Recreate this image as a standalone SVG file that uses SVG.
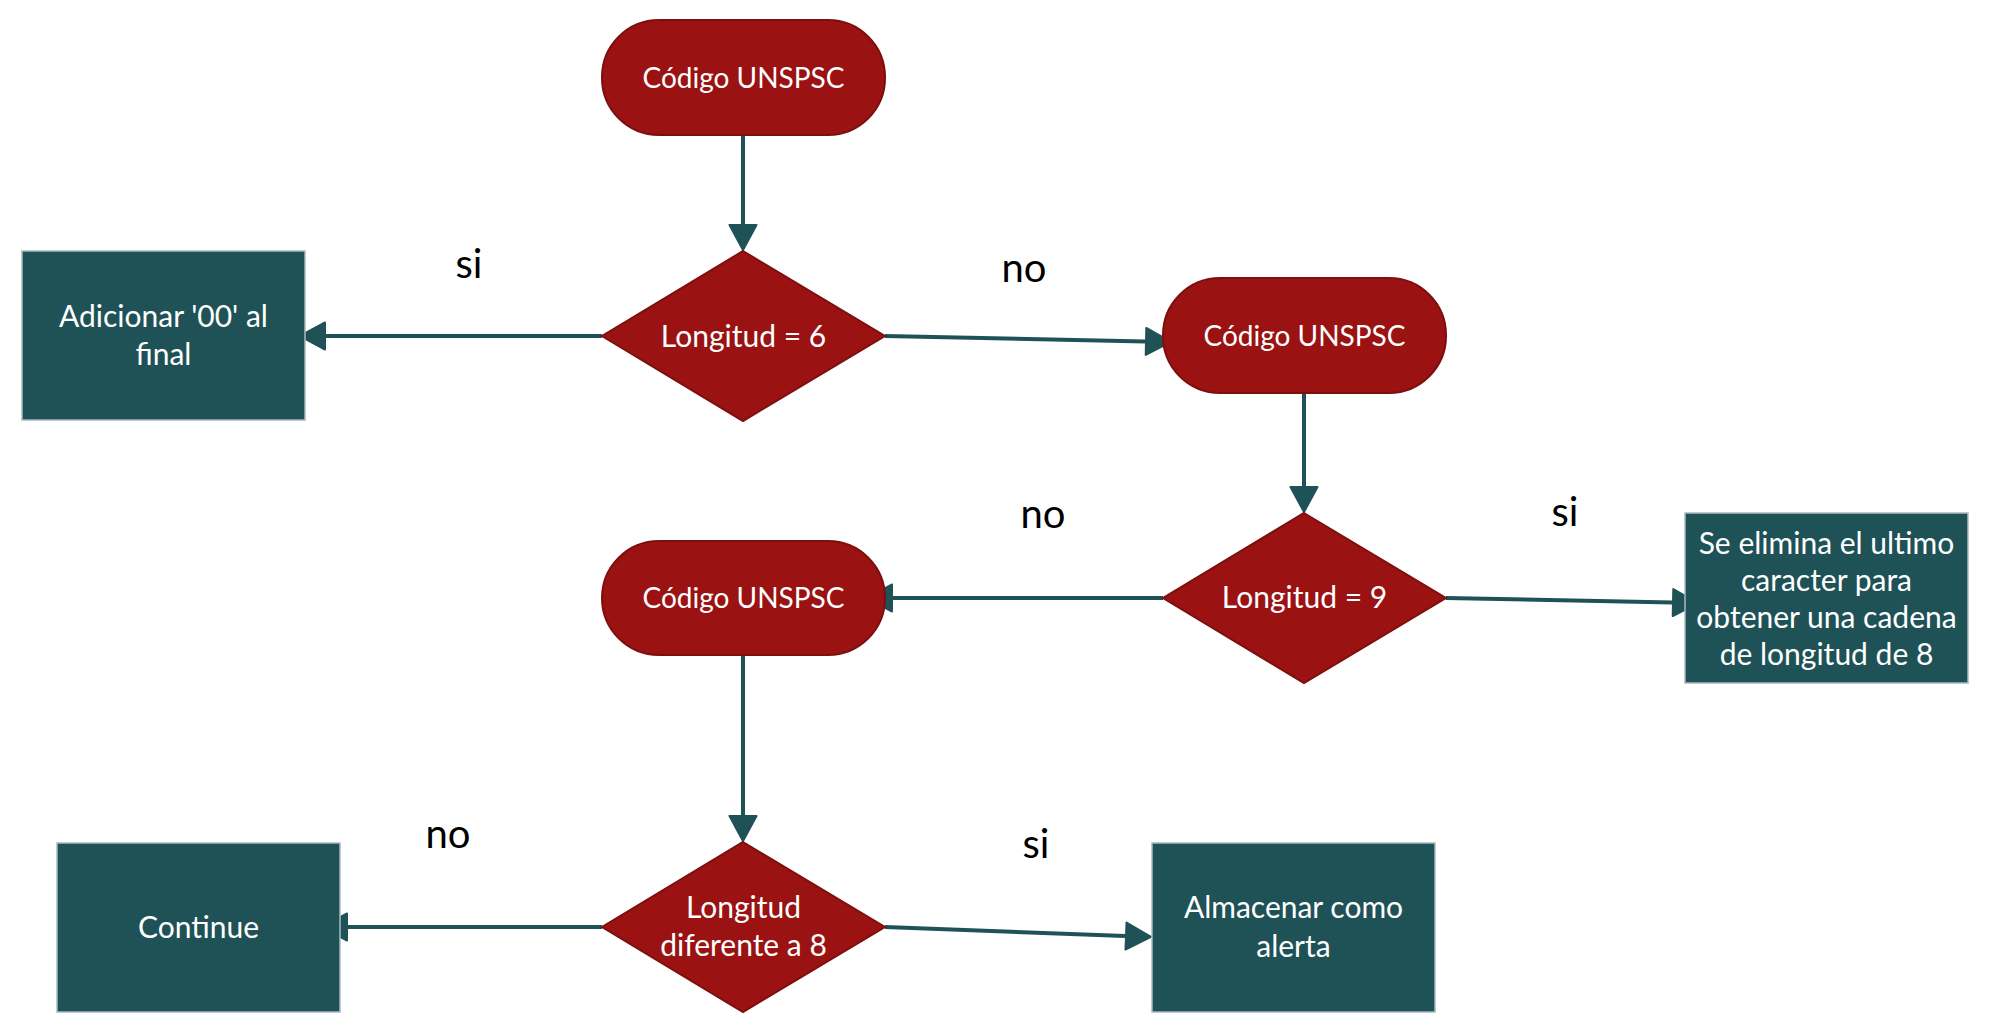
<svg xmlns="http://www.w3.org/2000/svg" width="2000" height="1035" viewBox="0 0 2000 1035">
<defs>
<marker id="arr" markerUnits="userSpaceOnUse" markerWidth="28" markerHeight="30" refX="0" refY="14.5" orient="auto" overflow="visible">
<path d="M1,1 L26,14.5 L1,28 z" fill="#1F5257" stroke="#1F5257" stroke-width="2" stroke-linejoin="round"/>
</marker>
<style>
.term{fill:#9B1212;stroke:#7E0F0F;stroke-width:2}
.dec{fill:#9B1212;stroke:#7E0F0F;stroke-width:2}
.box{fill:#1F5257;stroke:#A9BBBE;stroke-width:1.5}
.nt{font-family:Lato,"Open Sans",sans-serif;font-size:30px;fill:#FFFFFF;text-anchor:middle}
.tt{font-size:28px}
.lbl{font-family:Lato,"Open Sans",sans-serif;font-size:40px;fill:#000000;text-anchor:middle}
.con{fill:none;stroke:#1F5257;stroke-width:4;marker-end:url(#arr)}
</style>
</defs>
<rect width="2000" height="1035" fill="#FFFFFF"/>
<g id="connectors">
<path class="con" d="M743,135 L743,224"/>
<path class="con" d="M602,336 L326,336"/>
<path class="con" d="M885,336 L1145,341.4"/>
<path class="con" d="M1304,393 L1304,486"/>
<path class="con" d="M1446,598 L1672,602.5"/>
<path class="con" d="M1163,598 L893,598"/>
<path class="con" d="M743,655 L743,815"/>
<path class="con" d="M602,927 L348,927"/>
<path class="con" d="M885,927 L1125,936"/>
</g>
<g id="labels">
<text class="lbl" x="469" y="278">si</text>
<text class="lbl" x="1024" y="282">no</text>
<text class="lbl" x="1043" y="528">no</text>
<text class="lbl" x="1565" y="526">si</text>
<text class="lbl" x="448" y="848">no</text>
<text class="lbl" x="1036" y="858">si</text>
</g>
<g id="t1">
<rect class="term" x="602" y="20" width="283" height="115" rx="57" ry="57"/>
<text class="nt tt" x="743.5" y="88">Código UNSPSC</text>
</g>
<g id="d1">
<polygon class="dec" points="743,251 885,336 743,421 602,336"/>
<text class="nt" x="743.5" y="347">Longitud = 6</text>
</g>
<g id="b1">
<rect class="box" x="22" y="251" width="283" height="169"/>
<text class="nt" x="163.5" y="327">Adicionar '00' al</text>
<text class="nt" x="163.5" y="365">final</text>
</g>
<g id="t2">
<rect class="term" x="1163" y="278" width="283" height="115" rx="57" ry="57"/>
<text class="nt tt" x="1304.5" y="346">Código UNSPSC</text>
</g>
<g id="d2">
<polygon class="dec" points="1304,513 1446,598 1304,683 1163,598"/>
<text class="nt" x="1304.5" y="608">Longitud = 9</text>
</g>
<g id="b2">
<rect class="box" x="1685" y="513" width="283" height="170"/>
<text class="nt" x="1826.5" y="554">Se elimina el ultimo</text>
<text class="nt" x="1826.5" y="591">caracter para</text>
<text class="nt" x="1826.5" y="628">obtener una cadena</text>
<text class="nt" x="1826.5" y="665">de longitud de 8</text>
</g>
<g id="t3">
<rect class="term" x="602" y="541" width="283" height="114" rx="57" ry="57"/>
<text class="nt tt" x="743.5" y="608">Código UNSPSC</text>
</g>
<g id="d3">
<polygon class="dec" points="743,842 885,927 743,1012 602,927"/>
<text class="nt" x="743.5" y="918">Longitud</text>
<text class="nt" x="743.5" y="956">diferente a 8</text>
</g>
<g id="b3">
<rect class="box" x="57" y="843" width="283" height="169"/>
<text class="nt" x="198.5" y="938">Continue</text>
</g>
<g id="b4">
<rect class="box" x="1152" y="843" width="283" height="169"/>
<text class="nt" x="1293.5" y="918">Almacenar como</text>
<text class="nt" x="1293.5" y="957">alerta</text>
</g>
</svg>
